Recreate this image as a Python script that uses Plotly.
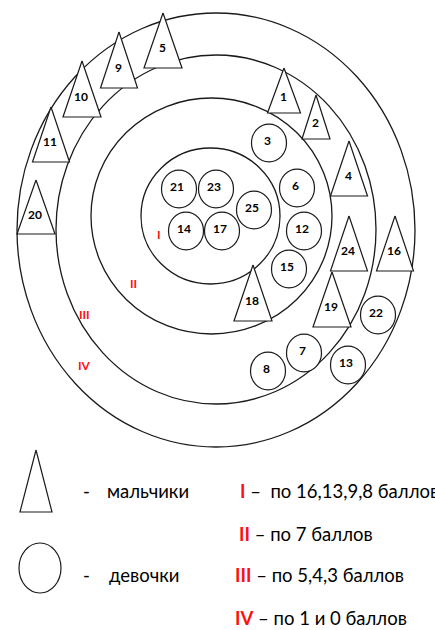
import plotly.graph_objects as go

# ---- data ----
ring_names = ["I", "II", "III", "IV"]
ring_cx = [210.5, 211.5, 216, 216]
ring_cy = [216, 216, 229.5, 230]
ring_rx = [69.5, 120.5, 160, 199]
ring_ry = [68, 118, 174.5, 217]
ring_label_x = [159, 133, 84, 84]
ring_label_y = [234, 283, 314, 365]

boys = [5, 9, 10, 11, 20, 1, 2, 4, 24, 16, 19, 18]
boys_x = [163, 119, 82, 51, 36, 284, 316, 349, 349, 395, 332, 253]
boys_top = [13, 32, 61, 107, 180, 68, 95, 141, 216, 216, 272, 265]
boys_base = [68, 88, 117, 162, 234, 113, 139, 196, 271, 271, 327, 321]
boys_halfw = [19, 18.5, 19, 18.5, 19, 16.5, 14, 18.5, 18.5, 18.5, 19, 19]

girls = [3, 21, 23, 25, 6, 14, 17, 12, 15, 22, 7, 8, 13]
girls_x = [269, 179, 216, 254, 297, 186, 222, 304, 289, 378, 304, 268, 348]
girls_y = [143, 189, 189, 210, 188, 231, 231, 231, 269, 315, 353, 371, 365]

legend_rows = ["I", "II", "III", "IV"]
legend_texts = ["–  по 16,13,9,8 баллов", "– по 7 баллов", "– по 5,4,3 баллов", "– по 1 и 0 баллов"]
legend_y = [493, 536, 577, 620]
legend_x = [238, 237, 233, 233]

# ---- style ----
W, H = 435, 630
LINE = "#1a1a1a"
RED = "#ff1010"
CIRC_RX, CIRC_RY = 17.5, 18.8
FONT = "Lato, Carlito, 'Liberation Sans', sans-serif"
LEG_SIZE = 18.5

fig = go.Figure()
shapes = []
annotations = []

# rings
for cx, cy, rx, ry in zip(ring_cx, ring_cy, ring_rx, ring_ry):
    shapes.append(dict(type="circle", xref="x", yref="y",
                       x0=cx - rx, x1=cx + rx, y0=cy - ry, y1=cy + ry,
                       line=dict(color=LINE, width=1.3), layer="below"))

for name, lx, ly in zip(ring_names, ring_label_x, ring_label_y):
    annotations.append(dict(x=lx, y=ly, xref="x", yref="y", text="<b>%s</b>" % name,
                            showarrow=False, font=dict(family=FONT, size=12, color=RED)))

# girls (circles)
for g, gx, gy in zip(girls, girls_x, girls_y):
    shapes.append(dict(type="circle", xref="x", yref="y",
                       x0=gx - CIRC_RX, x1=gx + CIRC_RX, y0=gy - CIRC_RY, y1=gy + CIRC_RY,
                       line=dict(color=LINE, width=1.2), fillcolor="white", layer="above"))
    annotations.append(dict(x=gx - 2, y=gy - 3, xref="x", yref="y", text="<b>%d</b>" % g,
                            showarrow=False, font=dict(family=FONT, size=12, color="black")))

# boys (triangles)
for b, bx, bt, bb, hw in zip(boys, boys_x, boys_top, boys_base, boys_halfw):
    fig.add_trace(go.Scatter(x=[bx, bx + hw, bx - hw, bx], y=[bt, bb, bb, bt],
                             mode="lines", fill="toself", fillcolor="white",
                             line=dict(color=LINE, width=1.2), hoverinfo="skip",
                             showlegend=False))
    annotations.append(dict(x=bx - 1, y=bt + 0.63 * (bb - bt), xref="x", yref="y",
                            text="<b>%d</b>" % b, showarrow=False,
                            font=dict(family=FONT, size=12, color="black")))

# legend symbols
fig.add_trace(go.Scatter(x=[36, 52, 20, 36], y=[450, 512, 512, 450], mode="lines",
                         line=dict(color=LINE, width=1.2), hoverinfo="skip", showlegend=False))
shapes.append(dict(type="circle", xref="x", yref="y", x0=19, x1=61, y0=543, y1=593,
                   line=dict(color=LINE, width=1.2)))

for txt, lx, ly in [("-", 81, 491), ("мальчики", 105, 491), ("-", 81, 575), ("девочки", 107, 575)]:
    annotations.append(dict(x=lx, y=ly, xref="x", yref="y", text=txt, xanchor="left",
                            showarrow=False, font=dict(family=FONT, size=LEG_SIZE, color="black")))

for r, t, lx, ly in zip(legend_rows, legend_texts, legend_x, legend_y):
    annotations.append(dict(x=lx, y=ly - 2, xref="x", yref="y", xanchor="left",
                            text="<b><span style='color:%s'>%s</span></b> %s" % (RED, r, t),
                            showarrow=False, font=dict(family=FONT, size=LEG_SIZE, color="black")))

# cut-off caption text at the very top (only descender tips visible)
annotations.append(dict(x=72 / W, y=1 - 2 / H, xref="paper", yref="paper", xanchor="left", yanchor="bottom",
                        text="рисунку", showarrow=False,
                        font=dict(family="'Liberation Serif', serif", size=17, color="black")))

fig.update_layout(
    width=W, height=H, margin=dict(l=0, r=0, t=0, b=0),
    paper_bgcolor="white", plot_bgcolor="white",
    xaxis=dict(range=[0, W], visible=False, fixedrange=True),
    yaxis=dict(range=[H, 0], visible=False, fixedrange=True),
    shapes=shapes, annotations=annotations, showlegend=False,
)

fig.write_html("out.html", config={"displayModeBar": False, "staticPlot": True},
               post_script="document.body.style.margin='0px';document.body.style.overflow='hidden';")
